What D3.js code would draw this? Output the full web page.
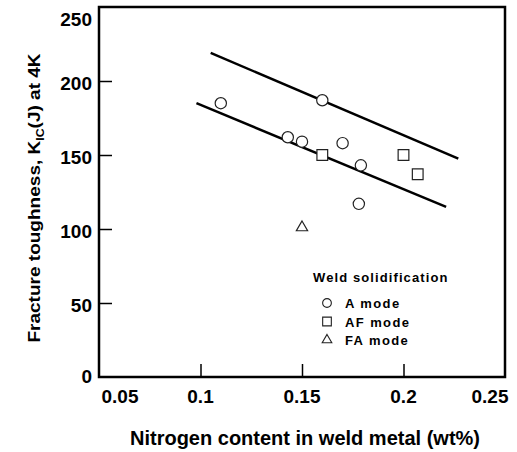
<!DOCTYPE html>
<html><head><meta charset="utf-8">
<script src="https://cdn.jsdelivr.net/npm/d3@7"></script>
<style>body{margin:0;background:#fff}svg{display:block}</style>
</head><body>
<script>
const xTicks = [0.05, 0.1, 0.15, 0.2, 0.25];
const xTickLabels = ["0.05", "0.1", "0.15", "0.2", "0.25"];
const yTicks = [0, 50, 100, 150, 200, 250];
const aModeN = [0.110, 0.160, 0.143, 0.150, 0.170, 0.179, 0.178];
const aModeK = [185, 187, 162, 159, 158, 143, 117];
const afModeN = [0.160, 0.200, 0.207];
const afModeK = [150, 150, 137];
const faModeN = [0.150];
const faModeK = [101];
const upperLine = [[0.105, 219], [0.227, 147.5]];
const lowerLine = [[0.098, 185], [0.221, 115]];
const legendLabels = ["A mode", "AF mode", "FA mode"];

const W = 517, H = 452;
const svg = d3.select("body").append("svg").attr("width", W).attr("height", H);
const x = d3.scaleLinear().domain([0.05, 0.25]).range([99, 505]);
const y = d3.scaleLinear().domain([0, 250]).range([377, 7]);
const font = "Arial, 'Liberation Sans', sans-serif";

// ticks (inward)
const gx = svg.append("g").attr("transform", "translate(0,377)")
  .call(d3.axisTop(x).tickValues([0.1, 0.15, 0.2]).tickSize(13).tickFormat(""));
gx.select(".domain").remove();
gx.selectAll("line").attr("stroke", "#000").attr("stroke-width", 1.5);
const gy = svg.append("g").attr("transform", "translate(99,0)")
  .call(d3.axisRight(y).tickValues([50, 100, 150, 200]).tickSize(13).tickFormat(""));
gy.select(".domain").remove();
gy.selectAll("line").attr("stroke", "#000").attr("stroke-width", 1.5);

// frame
svg.append("rect").attr("x", x(0.05)).attr("y", y(250))
  .attr("width", x(0.25) - x(0.05)).attr("height", y(0) - y(250))
  .attr("fill", "none").attr("stroke", "#000").attr("stroke-width", 2.5);

// tick labels
const xlabOff = [21, 0, 0, 0, -15];
svg.append("g").selectAll("text").data(xTicks).join("text")
  .attr("x", (d, i) => x(d) + xlabOff[i]).attr("y", 403)
  .attr("text-anchor", "middle").attr("font-family", font).attr("font-weight", "bold")
  .attr("font-size", 19).text((d, i) => xTickLabels[i]);
svg.append("g").selectAll("text").data(yTicks).join("text")
  .attr("x", 92).attr("y", d => Math.min(Math.max(y(d) + 9, 26), 383))
  .attr("text-anchor", "end").attr("font-family", font).attr("font-weight", "bold")
  .attr("font-size", 19).text(d => d);

// axis titles
svg.append("text").attr("x", 305).attr("y", 445).attr("text-anchor", "middle")
  .attr("font-family", font).attr("font-weight", "bold").attr("font-size", 20)
  .text("Nitrogen content in weld metal (wt%)");
const yt = svg.append("text").attr("transform", "translate(40,198) rotate(-90) scale(1.12,1)")
  .attr("text-anchor", "middle").attr("font-family", font).attr("font-size", 17)
  .attr("font-weight", "bold");
yt.append("tspan").text("Fracture toughness, K");
yt.append("tspan").attr("font-size", 11).attr("dy", 4).text("IC");
yt.append("tspan").attr("dy", -4).text("(J) at 4K");

// fit lines
const line = d3.line().x(d => x(d[0])).y(d => y(d[1]));
[upperLine, lowerLine].forEach(l => svg.append("path").attr("d", line(l))
  .attr("stroke", "#000").attr("stroke-width", 2.5).attr("fill", "none"));

// markers
const mk = {
  circle: d3.symbol().type(d3.symbolCircle).size(100),
  square: d3.symbol().type(d3.symbolSquare).size(115),
  triangle: d3.symbol().type(d3.symbolTriangle).size(55)
};
function plot(xs, ys, type) {
  svg.append("g").selectAll("path").data(xs).join("path")
    .attr("transform", (d, i) => `translate(${x(d)},${y(ys[i])})`)
    .attr("d", mk[type]()).attr("fill", "#fff").attr("stroke", "#222").attr("stroke-width", 1.2);
}
plot(aModeN, aModeK, "circle");
plot(afModeN, afModeK, "square");
plot(faModeN, faModeK, "triangle");

// legend
svg.append("text").attr("x", 313).attr("y", 282).attr("font-family", font)
  .attr("font-weight", "bold").attr("font-size", 13).attr("letter-spacing", 1.1)
  .text("Weld solidification");
const legTypes = [
  d3.symbol().type(d3.symbolCircle).size(60),
  d3.symbol().type(d3.symbolSquare).size(75),
  d3.symbol().type(d3.symbolTriangle).size(40)
];
legendLabels.forEach((lab, i) => {
  const yy = 303 + i * 18.5;
  svg.append("path").attr("transform", `translate(327,${yy})`).attr("d", legTypes[i]())
    .attr("fill", "#fff").attr("stroke", "#222").attr("stroke-width", 1.1);
  svg.append("text").attr("x", 345).attr("y", yy + 5).attr("font-family", font)
    .attr("font-weight", "bold").attr("font-size", 13).attr("letter-spacing", 1.4)
    .text(lab);
});
</script>
</body></html>
